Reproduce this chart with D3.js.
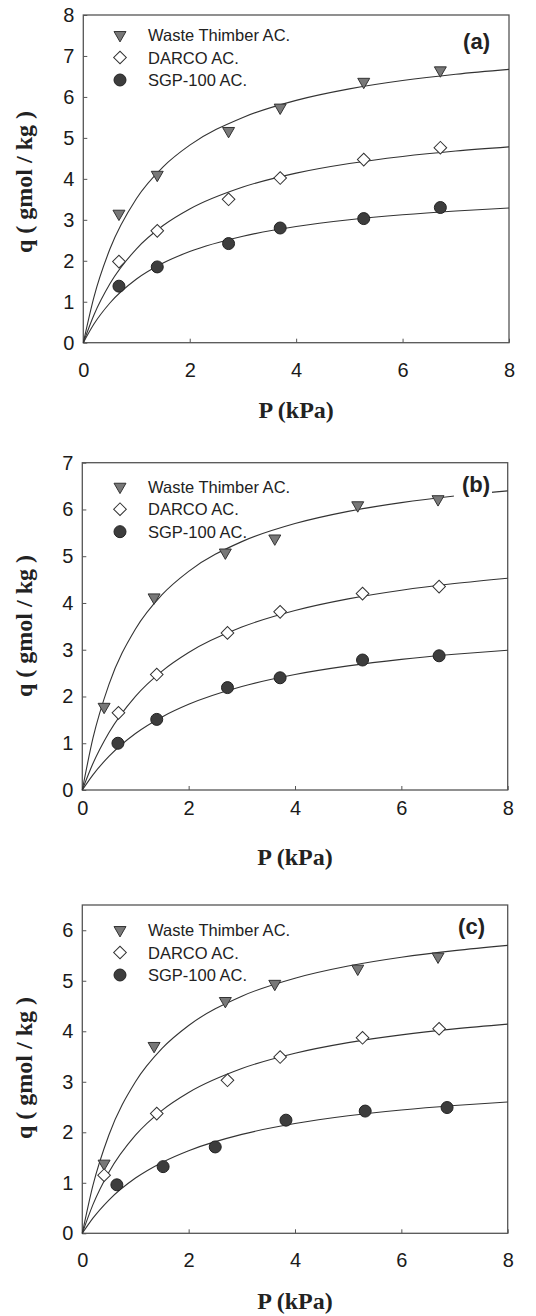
<!DOCTYPE html>
<html>
<head>
<meta charset="utf-8">
<script src="https://cdn.jsdelivr.net/npm/d3@7/dist/d3.min.js"></script>
<style>
    body { margin: 0; background: #fff; }
    svg { display: block; }
</style>
</head>
<body>
<div id="chart-container"></div>
<script>
// legend names and panel tags
const seriesNames = ["Waste Thimber AC.", "DARCO AC.", "SGP-100 AC."];
const panelLabels = ["(a)", "(b)", "(c)"];
const yMaxes = [8, 7, 6.5];
const xTicks = [0, 2, 4, 6, 8];

// measured points, panel (a)
const pWasteA = [0.67, 1.39, 2.73, 3.70, 5.27, 6.71];
const qWasteA = [3.15, 4.10, 5.17, 5.74, 6.37, 6.65];
const pDarcoA = [0.67, 1.39, 2.73, 3.70, 5.27, 6.71];
const qDarcoA = [1.98, 2.73, 3.50, 4.02, 4.47, 4.76];
const pSgpA = [0.67, 1.39, 2.73, 3.70, 5.27, 6.71];
const qSgpA = [1.38, 1.85, 2.42, 2.80, 3.03, 3.30];

// measured points, panel (b)
const pWasteB = [0.41, 1.35, 2.69, 3.62, 5.18, 6.69];
const qWasteB = [1.78, 4.12, 5.08, 5.38, 6.09, 6.22];
const pDarcoB = [0.68, 1.40, 2.73, 3.72, 5.27, 6.71];
const qDarcoB = [1.65, 2.47, 3.36, 3.81, 4.20, 4.35];
const pSgpB = [0.67, 1.40, 2.73, 3.72, 5.27, 6.71];
const qSgpB = [1.00, 1.51, 2.19, 2.40, 2.78, 2.87];

// measured points, panel (c)
const pWasteC = [0.41, 1.35, 2.69, 3.62, 5.18, 6.69];
const qWasteC = [1.38, 3.71, 4.60, 4.94, 5.24, 5.48];
const pDarcoC = [0.41, 1.40, 2.73, 3.72, 5.27, 6.71];
const qDarcoC = [1.15, 2.37, 3.03, 3.49, 3.87, 4.05];
const pSgpC = [0.65, 1.52, 2.50, 3.83, 5.32, 6.86];
const qSgpC = [0.96, 1.32, 1.71, 2.24, 2.42, 2.49];

// fitted isotherm lines at these pressures
const fitP = [0, 0.2, 0.5, 1, 1.5, 2, 3, 4, 5, 6, 7, 8];
const fitWasteA = [0, 1.115, 2.287, 3.522, 4.294, 4.823, 5.500, 5.916, 6.197, 6.400, 6.553, 6.672];
const fitDarcoA = [0, 0.678, 1.438, 2.293, 2.860, 3.264, 3.800, 4.140, 4.375, 4.547, 4.679, 4.782];
const fitSgpA = [0, 0.455, 0.969, 1.554, 1.945, 2.225, 2.599, 2.837, 3.002, 3.124, 3.217, 3.290];
const fitWasteB = [0, 1.107, 2.254, 3.443, 4.178, 4.677, 5.312, 5.698, 5.959, 6.146, 6.287, 6.397];
const fitDarcoB = [0, 0.565, 1.224, 2.004, 2.544, 2.941, 3.484, 3.839, 4.088, 4.273, 4.416, 4.530];
const fitSgpB = [0, 0.325, 0.719, 1.209, 1.563, 1.832, 2.213, 2.470, 2.654, 2.794, 2.902, 2.990];
const fitWasteC = [0, 0.948, 1.947, 3.001, 3.661, 4.114, 4.695, 5.051, 5.292, 5.466, 5.597, 5.700];
const fitDarcoC = [0, 0.567, 1.209, 1.942, 2.435, 2.788, 3.262, 3.565, 3.775, 3.929, 4.048, 4.141];
const fitSgpC = [0, 0.300, 0.659, 1.094, 1.404, 1.636, 1.958, 2.173, 2.326, 2.440, 2.529, 2.600];

const pointSets = [
    [[pWasteA, qWasteA], [pDarcoA, qDarcoA], [pSgpA, qSgpA]],
    [[pWasteB, qWasteB], [pDarcoB, qDarcoB], [pSgpB, qSgpB]],
    [[pWasteC, qWasteC], [pDarcoC, qDarcoC], [pSgpC, qSgpC]]
];
const fitSets = [
    [fitWasteA, fitDarcoA, fitSgpA],
    [fitWasteB, fitDarcoB, fitSgpB],
    [fitWasteC, fitDarcoC, fitSgpC]
];

// page layout for each panel
const width = 536;
const height = 1316;
const panels = [
    { left: 83.3, right: 509, top: 15, bottom: 342.7, xPad: 20, xTitleY: 418, yTitleY: 182, labelX: 490, labelY: 49, legendY: 35 },
    { left: 82.3, right: 507.7, top: 462.7, bottom: 790, xPad: 11, xTitleY: 865, yTitleY: 626, labelX: 490, labelY: 492, legendY: 486.7 },
    { left: 82.3, right: 507.7, top: 905, bottom: 1233.3, xPad: 19.5, xTitleY: 1309, yTitleY: 1068, labelX: 485, labelY: 934, legendY: 930 }
];

const symbols = [
    { type: d3.symbolTriangle, size: 62, rotate: 180, fill: "#787878", stroke: "#333" },
    { type: d3.symbolSquare, size: 80, rotate: 45, fill: "#fff", stroke: "#333" },
    { type: d3.symbolCircle, size: 113, rotate: 0, fill: "#3d3d3d", stroke: "#222" }
];

const svg = d3.select("#chart-container").append("svg")
    .attr("width", width)
    .attr("height", height);

panels.forEach((pl, i) => {
    const x = d3.scaleLinear().domain([0, 8]).range([pl.left, pl.right]);
    const y = d3.scaleLinear().domain([0, yMaxes[i]]).range([pl.bottom, pl.top]);
    const g = svg.append("g").attr("class", "panel");

    // axes with inward ticks
    const xAxis = g.append("g")
        .attr("transform", `translate(0,${pl.bottom})`)
        .call(d3.axisBottom(x).tickValues(xTicks).tickFormat(d3.format("d"))
            .tickSizeInner(-4).tickSizeOuter(0).tickPadding(pl.xPad));
    const yAxis = g.append("g")
        .attr("transform", `translate(${pl.left},0)`)
        .call(d3.axisLeft(y).ticks(Math.floor(yMaxes[i])).tickFormat(d3.format("d"))
            .tickSizeInner(-4).tickSizeOuter(0).tickPadding(9));

    [xAxis, yAxis].forEach(ax => {
        ax.select(".domain").remove();
        ax.selectAll("line").attr("stroke", "#555").attr("stroke-width", 1);
        ax.selectAll("text")
            .attr("font-family", "'Liberation Sans', Arial, sans-serif")
            .attr("font-size", 20)
            .attr("fill", "#1a1a1a");
    });

    // frame
    g.append("rect")
        .attr("x", pl.left)
        .attr("y", pl.top)
        .attr("width", pl.right - pl.left)
        .attr("height", pl.bottom - pl.top)
        .attr("fill", "none")
        .attr("stroke", "#555")
        .attr("stroke-width", 1.3);

    // fitted curves
    const line = d3.line()
        .x(d => x(d[0]))
        .y(d => y(d[1]))
        .curve(d3.curveMonotoneX);
    fitSets[i].forEach(fit => {
        g.append("path")
            .datum(fitP.map((p, k) => [p, fit[k]]))
            .attr("d", line)
            .attr("fill", "none")
            .attr("stroke", "#333")
            .attr("stroke-width", 1.1);
    });

    // panel tag with white backing
    const tag = g.append("text")
        .attr("x", pl.labelX)
        .attr("y", pl.labelY)
        .attr("text-anchor", "end")
        .attr("font-family", "'Liberation Sans', Arial, sans-serif")
        .attr("font-weight", "bold")
        .attr("font-size", 22)
        .attr("fill", "#222")
        .text(panelLabels[i]);
    const bb = tag.node().getBBox();
    g.insert("rect", () => tag.node())
        .attr("x", bb.x - 8)
        .attr("y", bb.y)
        .attr("width", bb.width + 10)
        .attr("height", bb.height)
        .attr("fill", "#fff");

    // data markers
    pointSets[i].forEach(([ps, qs], s) => {
        const sym = symbols[s];
        g.selectAll(null)
            .data(ps.map((p, k) => [p, qs[k]]))
            .join("path")
            .attr("d", d3.symbol().type(sym.type).size(sym.size))
            .attr("transform", d => `translate(${x(d[0])},${y(d[1])}) rotate(${sym.rotate})`)
            .attr("fill", sym.fill)
            .attr("stroke", sym.stroke)
            .attr("stroke-width", 1);
    });

    // legend
    const legend = g.append("g").attr("transform", `translate(120,${pl.legendY})`);
    const item = legend.selectAll("g")
        .data(seriesNames)
        .join("g")
        .attr("transform", (_, k) => `translate(0,${k * 22.5})`);
    item.append("path")
        .attr("d", (_, k) => d3.symbol().type(symbols[k].type).size(symbols[k].size)())
        .attr("transform", (_, k) => `rotate(${symbols[k].rotate})`)
        .attr("fill", (_, k) => symbols[k].fill)
        .attr("stroke", (_, k) => symbols[k].stroke);
    item.append("text")
        .attr("x", 28)
        .attr("y", 6)
        .attr("font-family", "'Liberation Sans', Arial, sans-serif")
        .attr("font-size", 16.5)
        .attr("fill", "#222")
        .text(d => d);

    // axis titles
    g.append("text")
        .attr("x", (pl.left + pl.right) / 2)
        .attr("y", pl.xTitleY)
        .attr("text-anchor", "middle")
        .attr("font-family", "'Liberation Serif', 'Times New Roman', serif")
        .attr("font-weight", "bold")
        .attr("font-size", 24)
        .attr("fill", "#222")
        .text("P (kPa)");
    g.append("text")
        .attr("transform", `translate(32,${pl.yTitleY}) rotate(-90)`)
        .attr("text-anchor", "middle")
        .attr("font-family", "'Liberation Serif', 'Times New Roman', serif")
        .attr("font-weight", "bold")
        .attr("font-size", 24)
        .attr("fill", "#222")
        .text("q ( gmol / kg )");
});
</script>
</body>
</html>
